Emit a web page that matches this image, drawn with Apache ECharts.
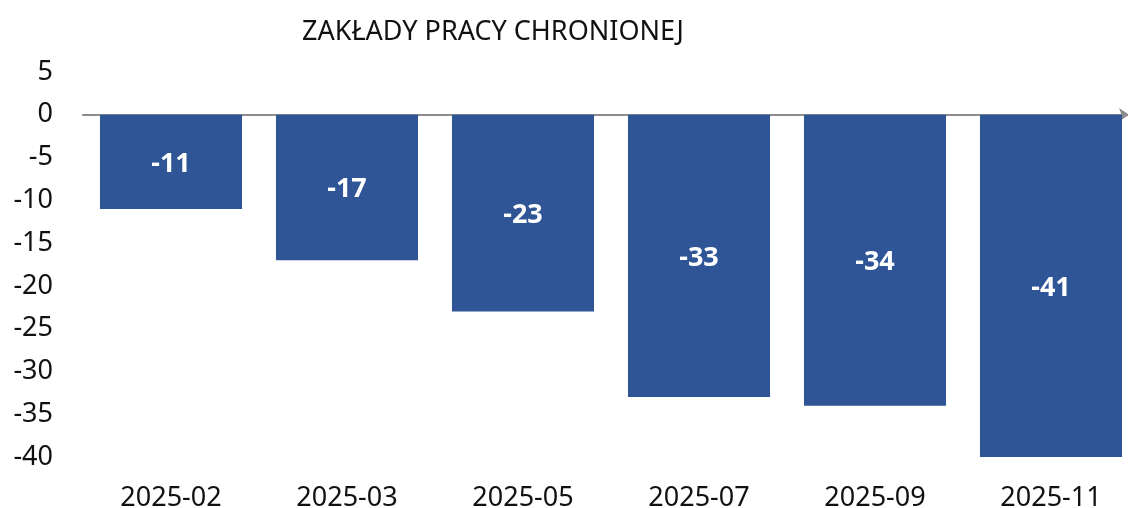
<!DOCTYPE html>
<html>
<head>
<meta charset="utf-8">
<script src="https://cdn.jsdelivr.net/npm/echarts@6/dist/echarts.min.js"></script>
<style>
  html, body { margin: 0; padding: 0; background: #fff; }
  #chart { width: 1128px; height: 508px; }
</style>
</head>
<body>
<div id="chart"></div>
<script>
// dane z wykresu
const titleText = "ZAKŁADY PRACY CHRONIONEJ";
const categories = ["2025-02", "2025-03", "2025-05", "2025-07", "2025-09", "2025-11"];
const values = [-11, -17, -23, -33, -34, -41];
const yMin = -40;
const yMax = 5;
const yStep = 5;

const font = "Noto Sans";
const chart = echarts.init(document.getElementById("chart"));

chart.setOption({
  animation: false,
  backgroundColor: "#fff",
  title: {
    text: titleText,
    left: 297,
    top: 14,
    textStyle: { fontFamily: font, fontSize: 27, fontWeight: "normal", color: "#111" },
  },
  grid: {
    left: 83,
    top: 72,
    width: 1056,
    height: 385,
    containLabel: false,
    outerBoundsMode: "none",
  },
  xAxis: [
    {
      // linia zera ze strzałką
      type: "category",
      data: categories,
      axisLine: {
        onZero: true,
        symbol: ["none", "arrow"],
        symbolSize: [10, 10],
        symbolOffset: [0, -10],
        lineStyle: { color: "#8c8c8c", width: 2 },
      },
      axisTick: { show: false },
      axisLabel: { show: false },
      splitLine: { show: false },
    },
    {
      // etykiety kategorii na dole
      type: "category",
      data: categories,
      position: "bottom",
      axisLine: { show: false, onZero: false },
      axisTick: { show: false },
      axisLabel: {
        margin: 28,
        fontFamily: font,
        fontSize: 27,
        color: "#111",
      },
      splitLine: { show: false },
    },
  ],
  yAxis: {
    type: "value",
    min: yMin,
    max: yMax,
    interval: yStep,
    axisLine: { show: false },
    axisTick: { show: false },
    splitLine: { show: false },
    axisLabel: {
      margin: 30,
      lineHeight: 34,
      verticalAlign: "middle",
      padding: [5, 0, 0, 0],
      fontFamily: font,
      fontSize: 27,
      color: "#111",
    },
  },
  series: [
    {
      type: "bar",
      xAxisIndex: 0,
      data: values,
      barCategoryGap: "19.3%",
      clip: true,
      itemStyle: { color: "#2f5597" },
      label: {
        show: true,
        position: "inside",
        offset: [0, 2],
        color: "#fff",
        fontFamily: font,
        fontSize: 27,
        fontWeight: "bold",
      },
    },
  ],
});
</script>
</body>
</html>
